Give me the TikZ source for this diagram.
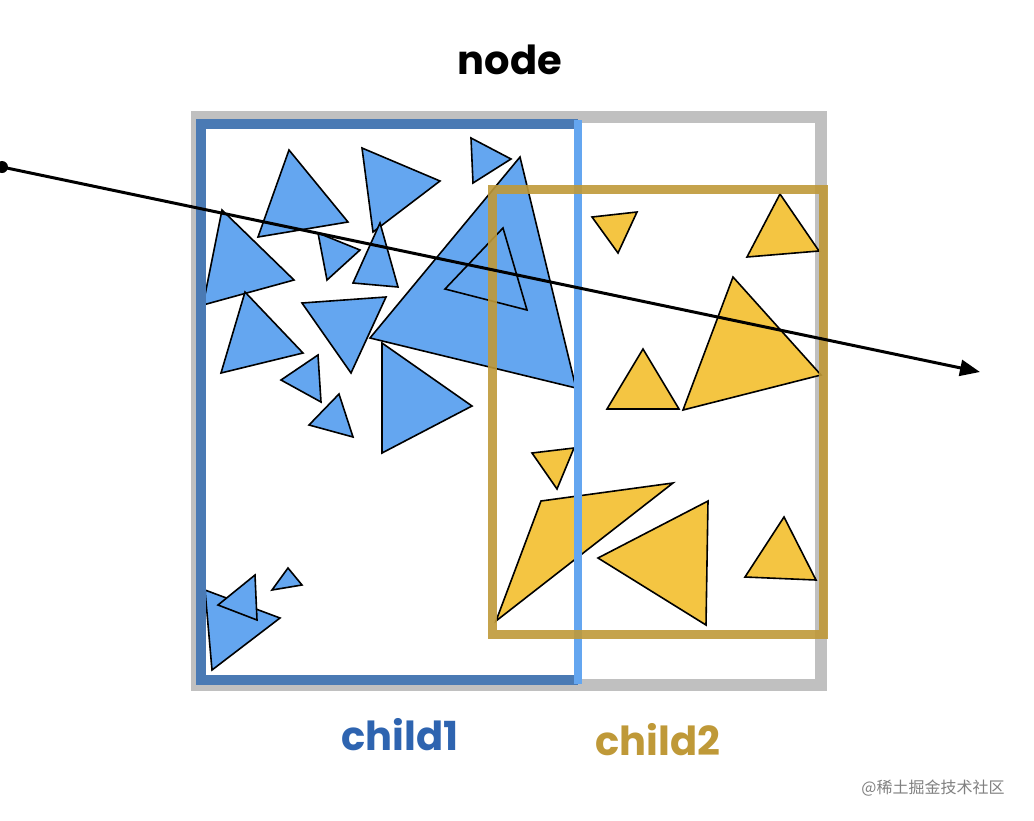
\documentclass[tikz,border=0pt]{standalone}
\usepackage{fontspec}
\setmainfont{Poppins}
\newfontfamily\cjk{Noto Sans CJK SC}
\usetikzlibrary{arrows.meta}
\definecolor{bluefill}{HTML}{64A6F0}
\definecolor{bluedark}{HTML}{4A7AB4}
\definecolor{yellowfill}{HTML}{F4C542}
\definecolor{gold}{HTML}{BF9938}
\definecolor{boxgrey}{HTML}{C0C0C0}
\definecolor{labelblue}{HTML}{2E64B0}
\tikzset{
  blue tri/.style={fill=bluefill, draw=black, line width=1.6pt, line join=miter},
  yellow tri/.style={fill=yellowfill, draw=black, line width=1.6pt},
  title/.style={font=\bfseries\fontsize{40}{40}\selectfont}
}
\begin{document}
\begin{tikzpicture}[x=1pt,y=-1pt]
  \useasboundingbox (0,0) rectangle (1034,820);
  % outer box
  \draw[boxgrey, line width=12pt] (197,117) rectangle (821,685);
  % blue triangles
  \foreach \p in {
      {(289,150)--(348,222)--(258,237)},
      {(362,148)--(440,181)--(373,232)},
      {(471,138)--(511,159)--(473,183)},
      {(520,157)--(576,388)--(370,338)},
      {(503,228)--(527,310)--(445,289)},
      {(222,210)--(294,280)--(203,305)},
      {(318,233)--(360,250)--(327,280)},
      {(380,223)--(398,287)--(353,283)},
      {(245,292)--(303,353)--(221,373)},
      {(302,303)--(386,297)--(351,373)},
      {(318,355)--(321,402)--(281,380)},
      {(339,394)--(353,437)--(309,425)},
      {(382,343)--(472,406)--(382,453)},
      {(205,590)--(280,618)--(212,670)},
      {(218,605)--(255,575)--(257,620)},
      {(272,590)--(288,568)--(302,585)}}
    \draw[blue tri] \p -- cycle;
  % yellow triangles
  \foreach \p in {
      {(592,217)--(637,212)--(618,253)},
      {(780,194)--(819,251)--(747,257)},
      {(733,277)--(821,375)--(683,410)},
      {(643,349)--(679,409)--(607,409)},
      {(532,453)--(574,448)--(557,489)},
      {(541,501)--(673,483)--(496,621)},
      {(708,501)--(706,625)--(598,558)},
      {(784,517)--(816,580)--(745,577)}}
    \draw[yellow tri] \p -- cycle;
  % child boxes
  \draw[bluedark, line width=10pt] (578,124) -- (201,124) -- (201,680) -- (578,680);
  \draw[bluefill, line width=8pt] (578,120) -- (578,684);
  \draw[gold, line width=9pt, opacity=.9] (492,189) rectangle (823,634);
  % ray
  \coordinate (start) at (2,167);
  \coordinate (end) at (980,372);
  \fill (start) circle (6pt);
  \draw[line width=3pt, -{Triangle[length=20pt,width=16pt]}] (start) -- (end);
  % labels
  \node[title] (node) at (510,60) {node};
  \node[title, labelblue] (child1) at (400,735) {child1};
  \node[title, gold] (child2) at (658,740) {child2};
  \node[gray, font=\cjk\fontsize{16}{16}\selectfont] (mark) at (933,788) {@稀土掘金技术社区};
\end{tikzpicture}
\end{document}
